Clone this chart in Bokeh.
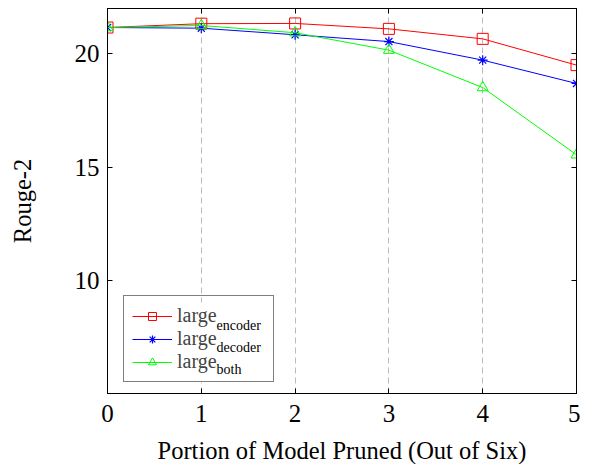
from bokeh.plotting import figure
from bokeh.models import Legend, LegendItem, Label, LinearAxis, FixedTicker, Range1d, BoxAnnotation
from bokeh.embed import file_html
from bokeh.resources import INLINE

pruned = [0, 1, 2, 3, 4, 5]
large_encoder = [21.16, 21.33, 21.34, 21.10, 20.66, 19.50]
large_decoder = [21.16, 21.13, 20.84, 20.54, 19.72, 18.69]
large_both = [21.16, 21.25, 20.93, 20.16, 18.51, 15.54]
x_ticks = [0, 1, 2, 3, 4, 5]
y_ticks = [10, 15, 20]
series_names = ["large", "large", "large"]
series_subs = ["encoder", "decoder", "both"]

SERIF = "Liberation Serif"

p = figure(frame_width=469, frame_height=385, output_backend="svg", toolbar_location=None,
           x_range=Range1d(0, 5), y_range=Range1d(5, 22),
           min_border_left=107, min_border_top=8, min_border_right=4, min_border_bottom=72)
p.background_fill_color = "white"
p.border_fill_color = "white"
p.outline_line_color = "black"
p.outline_line_width = 1

p.ygrid.grid_line_color = None
p.xgrid.grid_line_color = "#bbbbbb"
p.xgrid.grid_line_dash = "6 4"
p.xgrid.ticker = FixedTicker(ticks=x_ticks)

for ax in p.axis:
    ax.axis_line_color = "black"
    ax.major_tick_in = 5
    ax.major_tick_out = 0
    ax.minor_tick_in = 0
    ax.minor_tick_out = 0
    ax.major_label_text_font = SERIF
    ax.major_label_text_font_size = "25px"
    ax.major_label_text_color = "black"
    ax.axis_label_text_font = SERIF
    ax.axis_label_text_font_size = "24.5px"
    ax.axis_label_text_font_style = "normal"
    ax.axis_label_text_color = "black"

p.xaxis.ticker = FixedTicker(ticks=x_ticks)
p.yaxis.ticker = FixedTicker(ticks=y_ticks)
p.xaxis.axis_label = "Portion of Model Pruned (Out of Six)"
p.yaxis.axis_label = "Rouge-2"
p.xaxis.major_label_standoff = 11
p.yaxis.major_label_standoff = 8
p.xaxis.axis_label_standoff = 12
p.yaxis.axis_label_standoff = 36

top = LinearAxis(ticker=FixedTicker(ticks=x_ticks), major_tick_in=5, major_tick_out=0,
                 minor_tick_in=0, minor_tick_out=0,
                 major_label_overrides={t: "" for t in x_ticks},
                 major_label_standoff=0, axis_line_color="black")
right = LinearAxis(ticker=FixedTicker(ticks=y_ticks), major_tick_in=5, major_tick_out=0,
                   minor_tick_in=0, minor_tick_out=0,
                   major_label_overrides={t: "" for t in y_ticks},
                   major_label_standoff=0, axis_line_color="black")
p.add_layout(top, "above")
p.add_layout(right, "right")

r1l = p.line(pruned, large_encoder, line_color="red", line_width=1)
r1m = p.scatter(pruned, large_encoder, marker="square", size=11, line_color="red",
                fill_color=None, line_width=1)
r2l = p.line(pruned, large_decoder, line_color="blue", line_width=1)
r2m = p.scatter(pruned, large_decoder, marker="asterisk", size=10, line_color="blue", line_width=1.2)
r3l = p.line(pruned, large_both, line_color="#00ff00", line_width=1)
r3m = p.scatter(pruned, large_both, marker="triangle", size=11, line_color="#00ff00",
                fill_color=None, line_width=1)

# white backing behind the legend (hides the grid there)
p.add_layout(BoxAnnotation(left=16, right=165, bottom=11, top=91,
                           left_units="screen", right_units="screen",
                           bottom_units="screen", top_units="screen",
                           fill_color="white", fill_alpha=1, line_color=None,
                           level="annotation"))

legend = Legend(items=[LegendItem(label=series_names[0], renderers=[r1l, r1m]),
                       LegendItem(label=series_names[1], renderers=[r2l, r2m]),
                       LegendItem(label=series_names[2], renderers=[r3l, r3m])],
                location=(16, 11), glyph_width=40, glyph_height=20, spacing=0, padding=8,
                label_standoff=5, label_width=88, label_text_font=SERIF,
                label_text_font_size="20px", border_line_color="black", border_line_width=1,
                background_fill_alpha=0, margin=0, label_height=20)
p.add_layout(legend)

sub_y = [73, 51, 29]
for name_sub, yy in zip(series_subs, sub_y):
    p.add_layout(Label(x=109, y=yy - 5, x_units="screen", y_units="screen", text=name_sub,
                       text_font=SERIF, text_font_size="14px", text_baseline="middle",
                       text_color="black", level="overlay"))

open("out.html", "w").write(file_html(p, INLINE))
